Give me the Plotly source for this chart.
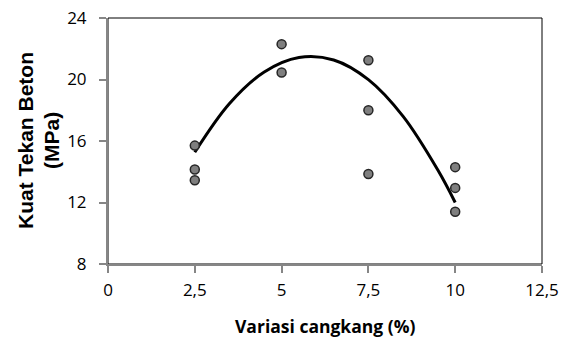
import plotly.graph_objects as go

x_vals = [2.5, 2.5, 2.5, 5, 5, 7.5, 7.5, 7.5, 10, 10, 10]
y_vals = [15.7, 14.15, 13.45, 22.3, 20.45, 21.25, 18.0, 13.85, 14.3, 12.95, 11.4]
trend_x = [2.5, 3.5, 4.5, 5.5, 6.5, 7.5, 8.5, 9.5, 10]
trend_y = [15.27, 18.44, 20.49, 21.43, 21.27, 19.99, 17.60, 14.11, 12.0]
x_ticks = [0, 2.5, 5, 7.5, 10, 12.5]
x_tick_labels = ["0", "2,5", "5", "7,5", "10", "12,5"]
y_ticks = [8, 12, 16, 20, 24]

fig = go.Figure()
fig.add_trace(go.Scatter(x=trend_x, y=trend_y, mode="lines", line_shape="spline",
                         line=dict(color="black", width=3), hoverinfo="skip"))
fig.add_trace(go.Scatter(x=x_vals, y=y_vals, mode="markers",
                         marker=dict(size=9, color="#7f7f7f",
                                     line=dict(color="#262626", width=1.5))))

tick_font = dict(family="Open Sans, Liberation Sans", size=17, color="black")
L, T = 100, 10
fig.update_layout(
    width=572, height=338,
    margin=dict(l=L, r=38, t=T, b=82, autoexpand=False),
    paper_bgcolor="white", plot_bgcolor="white",
    showlegend=False,
    font=dict(family="Open Sans, Liberation Sans, Arial", size=14, color="black"),
    xaxis=dict(range=[0, 12.5], tickvals=x_ticks, ticktext=x_tick_labels,
               showgrid=False, zeroline=False, showline=True, linecolor="#868686",
               linewidth=2, ticks="outside", tickcolor="#868686", ticklen=7,
               tickwidth=2, tickfont=tick_font, automargin=False, ticklabelstandoff=3,
               ticklabeloverflow="allow"),
    yaxis=dict(range=[8, 24], tickvals=y_ticks,
               showgrid=False, zeroline=False, showline=True, linecolor="#868686",
               linewidth=2, ticks="outside", tickcolor="#868686", ticklen=7,
               tickwidth=2, tickfont=tick_font, automargin=False, ticklabelstandoff=9,
               ticklabeloverflow="allow"),
)
fig.add_shape(type="rect", xref="x domain", yref="y domain", x0=0, x1=1, y0=0, y1=1,
              line=dict(color="black", width=1), layer="below")

pw, ph = 434.0, 246.0
# positions in target-window pixels, converted to paper coords (page has 8px body margin)
def px(xp):
    return (xp - 8 - L) / pw
def py(yp):
    return (T + ph - (yp - 8)) / ph

fig.add_annotation(text="<b>Variasi cangkang (%)</b>", xref="paper", yref="paper",
                   x=px(325), y=py(326), xanchor="center", yanchor="middle",
                   showarrow=False, font=dict(family="Open Sans, Liberation Sans", size=17.5))
fig.add_annotation(text="<b>Kuat Tekan Beton</b>", xref="paper", yref="paper",
                   x=px(25), y=py(141), xanchor="center", yanchor="middle",
                   textangle=-90, showarrow=False,
                   font=dict(family="Liberation Sans, Arial", size=21))
fig.add_annotation(text="<b>(MPa)</b>", xref="paper", yref="paper",
                   x=px(51), y=py(141), xanchor="center", yanchor="middle",
                   textangle=-90, showarrow=False,
                   font=dict(family="Liberation Sans, Arial", size=21))
fig.write_html("out.html")
